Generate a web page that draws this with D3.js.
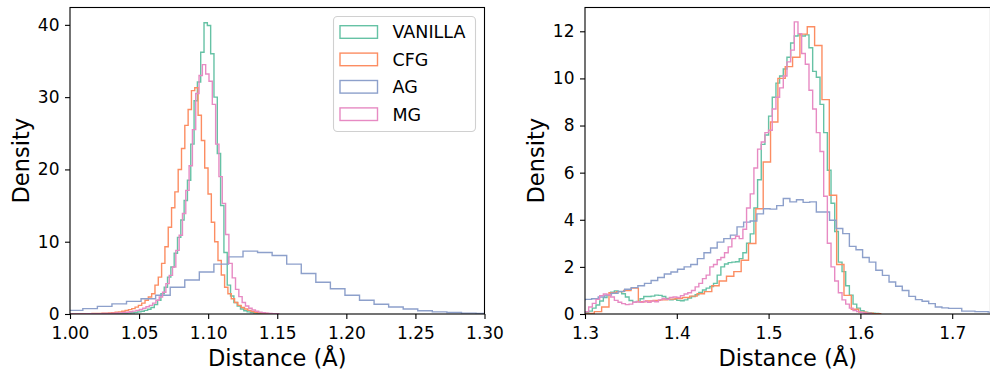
<!DOCTYPE html>
<html><head><meta charset="utf-8">
<script src="https://cdn.jsdelivr.net/npm/d3@7"></script>
<style>body{margin:0;background:#fff}svg{display:block}text{font-family:"DejaVu Sans",sans-serif;fill:#000}</style>
</head><body><svg id="c" width="990" height="372"></svg>
<script>
// ---------- data ----------
const seriesNames = ["VANILLA", "CFG", "AG", "MG"];
const seriesColors = ["#66c2a5", "#fc8d62", "#8da0cb", "#e78ac3"];

// Left panel (bin start, bin width, density values)
const leftVanillaStart = 1.0010, leftVanillaWidth = 0.0024;
const leftVanilla = [0.005,0.01,0.01,0.01,0.015,0.02,0.02,0.025,0.03,0.03,0.035,0.04,0.05,0.06,0.07,0.08,0.1,0.13,0.17,0.22,0.3,0.38,0.5,0.65,0.9,1.3,1.9,2.8,3.7,5.1,6.5,8.4,10.6,13.0,15.7,18.5,23.5,29.5,32.1,36.2,
  40.3,39.9,36.0,30.0,22.2,15.0,8.5,4.0,2.5,1.6,1.1,0.7,0.45,0.3,0.2,0.12,0.08,0.05,0.03,0.02];
const leftCfgStart = 0.9991, leftCfgWidth = 0.0024;
const leftCfg = [0.015,0.02,0.025,0.03,0.035,0.04,0.05,0.06,0.07,0.08,0.1,0.12,0.15,0.19,0.24,0.3,0.38,0.48,0.6,0.75,0.95,1.2,1.5,1.9,2.35,2.8,4.0,5.1,7.0,9.3,12.0,14.7,16.9,20.0,22.9,26.1,28.3,30.9,
  31.3,27.5,24.0,20.2,16.6,12.7,10.0,7.4,5.4,3.7,2.8,2.1,1.6,1.2,0.9,0.7,0.5,0.35,0.25,0.18,0.12,0.08,0.05,0.03,0.02];
const leftAgStart = 0.9882, leftAgWidth = 0.01054;
const leftAg = [0.45,0.5,0.75,1.05,1.4,1.75,2.1,2.6,3.7,4.7,5.8,6.9,7.9,8.7,8.5,8.1,6.9,5.6,4.4,3.5,2.6,1.9,1.35,0.97,0.7,0.45,0.3,0.2,0.12,0.07,0.04];
const leftMgStart = 0.9998, leftMgWidth = 0.0024;
const leftMg = [0.01,0.01,0.015,0.02,0.02,0.025,0.03,0.035,0.04,0.05,0.06,0.07,0.08,0.1,0.13,0.16,0.2,0.25,0.32,0.4,0.5,0.62,0.8,1.0,1.2,1.5,1.9,2.35,3.0,4.2,5.35,6.5,8.8,10.9,13.9,17.1,20.5,25.5,30.5,33.0,
  34.5,33.2,32.2,29.0,23.5,19.0,15.3,11.0,7.0,5.0,3.4,2.4,1.6,1.1,0.8,0.55,0.38,0.26,0.18,0.12,0.08,0.05,0.03];

// Right panel
const rightVanillaStart = 1.300, rightVanillaWidth = 0.004;
const rightVanilla = [0.05,0.12,0.25,0.38,0.55,0.7,0.82,0.93,0.98,0.95,0.86,0.72,0.57,0.5,0.53,0.65,0.74,0.74,0.76,0.8,
  0.79,0.74,0.66,0.6,0.62,0.58,0.56,0.6,0.68,0.74,0.82,0.92,1.02,1.1,1.17,1.3,1.65,2.0,2.12,2.18,
  2.2,2.22,2.35,2.6,3.0,3.4,4.5,5.7,7.2,7.6,8.4,9.2,9.8,10.1,10.4,10.9,11.5,11.8,11.85,11.8,
  11.85,11.3,10.3,10.05,8.9,7.7,6.1,4.7,3.5,2.2,1.8,1.2,0.8,0.42,0.25,0.14,0.08,0.05,0.03,0.02];
const rightCfgStart = 1.29412, rightCfgWidth = 0.008;
const rightCfg = [0,0.02,0.1,0.3,0.9,0.95,1.0,1.1,0.52,0.55,0.58,0.6,0.63,0.66,0.7,0.76,0.86,0.95,1.2,1.4,
  1.6,1.8,2.28,2.99,4.47,6.45,8.15,10.0,10.5,10.9,11.88,12.19,11.4,9.1,5.04,2.1,0.79,0.2,0.08,0.03,0.01];
const rightAgStart = 1.2928, rightAgWidth = 0.0072;
const rightAg = [0.6,0.62,0.65,0.72,0.8,0.88,0.96,1.05,1.12,1.2,1.3,1.42,1.55,1.7,1.78,1.9,2.0,2.1,2.35,2.6,
  2.8,3.05,3.2,3.35,3.7,3.9,3.95,4.25,4.47,4.45,4.6,4.9,4.76,4.85,4.74,4.76,4.33,4.33,3.98,3.63,
  3.41,2.87,2.73,2.4,2.2,1.86,1.64,1.36,1.18,1.0,0.75,0.61,0.54,0.44,0.3,0.26,0.24,0.24,0.12,0.12,
  0.1,0.1,0.08,0.06];
const rightMgStart = 1.300, rightMgWidth = 0.004;
const rightMg = [0.1,0.3,0.45,0.62,0.78,0.85,0.82,0.72,0.58,0.5,0.44,0.4,0.42,0.5,0.52,0.5,0.54,0.5,0.55,0.52,
  0.6,0.66,0.62,0.7,0.72,0.7,0.78,0.85,0.9,1.0,1.15,1.3,1.5,1.65,2.0,2.1,2.3,2.4,2.6,2.85,
  3.2,3.3,3.2,3.6,4.5,5.1,6.2,7.0,7.3,7.7,7.8,8.7,9.2,9.6,10.1,10.7,11.2,12.4,11.9,11.06,
  10.6,9.5,8.7,7.7,6.9,5.0,3.0,2.0,1.4,0.9,0.6,0.42,0.25,0.15,0.1,0.06,0.03,0.02];

const leftXTicks = [1.00, 1.05, 1.10, 1.15, 1.20, 1.25, 1.30];
const leftYTicks = [0, 10, 20, 30, 40];
const rightXTicks = [1.3, 1.4, 1.5, 1.6, 1.7];
const rightYTicks = [0, 2, 4, 6, 8, 10, 12];
const xLabel = "Distance (Å)", yLabel = "Density";

// ---------- drawing ----------
const svg = d3.select("#c");
const plotTop = 7.5, plotBottom = 314;

function panel(cfg) {
  const x = d3.scaleLinear().domain(cfg.xDomain).range([cfg.x0, cfg.x1]);
  const y = d3.scaleLinear().domain(cfg.yDomain).range([plotBottom, plotTop]);
  const g = svg.append("g");
  const cid = "clip" + cfg.id;
  svg.append("clipPath").attr("id", cid).append("rect")
    .attr("x", cfg.x0).attr("y", plotTop).attr("width", cfg.x1 - cfg.x0).attr("height", plotBottom - plotTop);
  const plot = g.append("g").attr("clip-path", `url(#${cid})`);
  const line = d3.line().x(d => x(d[0])).y(d => y(d[1]));
  cfg.series.forEach((s, si) => {
    const pts = [[s.start, 0]];
    s.values.forEach((v, i) => {
      const a = s.start + i * s.width, b = a + s.width;
      pts.push([a, v]); pts.push([b, v]);
    });
    pts.push([s.start + s.values.length * s.width, 0]);
    plot.append("path").attr("d", line(pts)).attr("fill", "none")
      .attr("stroke", seriesColors[si]).attr("stroke-width", 1.4).attr("stroke-linejoin", "miter");
  });
  const xa = g.append("g").attr("transform", `translate(0,${plotBottom})`)
    .call(d3.axisBottom(x).tickValues(cfg.xTicks).tickFormat(d3.format(cfg.xFmt)).tickSize(5).tickPadding(8));
  const ya = g.append("g").attr("transform", `translate(${cfg.x0},0)`)
    .call(d3.axisLeft(y).tickValues(cfg.yTicks).tickFormat(d3.format("d")).tickSize(5).tickPadding(5.5));
  [xa, ya].forEach(a => {
    a.select(".domain").remove();
    a.selectAll(".tick line").attr("stroke", "#000").attr("stroke-width", 1.1);
    a.selectAll("text").attr("font-size", "17px").attr("font-family", '"DejaVu Sans", sans-serif').attr("fill", "#000");
  });
  g.append("rect").attr("x", cfg.x0).attr("y", plotTop).attr("width", cfg.x1 - cfg.x0).attr("height", plotBottom - plotTop)
    .attr("fill", "none").attr("stroke", "#000").attr("stroke-width", 1.1);
  g.append("text").attr("x", (cfg.x0 + cfg.x1) / 2).attr("y", 366).attr("text-anchor", "middle")
    .attr("font-size", "22.5px").text(xLabel);
  g.append("text").attr("transform", `translate(${cfg.yLabelX},${(plotTop + plotBottom) / 2}) rotate(-90)`)
    .attr("text-anchor", "middle").attr("font-size", "22.5px").text(yLabel);
  return g;
}

panel({
  id: "L", x0: 70, x1: 484.5, xDomain: [1.0, 1.3], yDomain: [0, 42.4],
  xTicks: leftXTicks, yTicks: leftYTicks, xFmt: ".2f", yLabelX: 29,
  series: [
    {start: leftVanillaStart, width: leftVanillaWidth, values: leftVanilla},
    {start: leftCfgStart, width: leftCfgWidth, values: leftCfg},
    {start: leftAgStart, width: leftAgWidth, values: leftAg},
    {start: leftMgStart, width: leftMgWidth, values: leftMg}
  ]
});
panel({
  id: "R", x0: 585, x1: 990.5, xDomain: [1.3, 1.3 + 405.5 / 918], yDomain: [0, 13.01],
  xTicks: rightXTicks, yTicks: rightYTicks, xFmt: ".1f", yLabelX: 544,
  series: [
    {start: rightVanillaStart, width: rightVanillaWidth, values: rightVanilla},
    {start: rightCfgStart, width: rightCfgWidth, values: rightCfg},
    {start: rightAgStart, width: rightAgWidth, values: rightAg},
    {start: rightMgStart, width: rightMgWidth, values: rightMg}
  ]
});

const lg = svg.append("g");
lg.append("rect").attr("x", 333.5).attr("y", 16.5).attr("width", 142).attr("height", 115).attr("rx", 4)
  .attr("fill", "#fff").attr("fill-opacity", 0.8).attr("stroke", "#d0d0d0").attr("stroke-width", 1.1);
seriesNames.forEach((n, i) => {
  const cy = 32 + i * 27.4;
  lg.append("rect").attr("x", 340).attr("y", cy - 6.3).attr("width", 37.5).attr("height", 12.6)
    .attr("fill", "none").attr("stroke", seriesColors[i]).attr("stroke-width", 1.4);
  lg.append("text").attr("x", 392.5).attr("y", cy + 6.4).attr("font-size", "17.5px").text(n);
});
</script></body></html>
